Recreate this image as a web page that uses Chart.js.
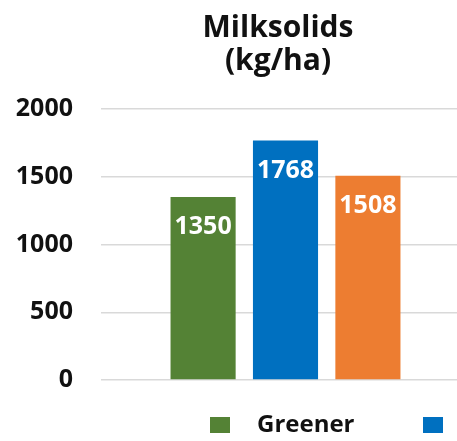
<!DOCTYPE html>
<html>
<head>
<meta charset="utf-8">
<script src="https://cdn.jsdelivr.net/npm/chart.js@4/dist/chart.umd.min.js"></script>
<style>
  html, body { margin: 0; padding: 0; background: #fff; overflow: hidden; width: 457px; height: 441px; }
  #c { display: block; }
</style>
</head>
<body>
<canvas id="c" width="556" height="441" style="width:556px;height:441px"></canvas>
<script>
const categories = [''];
const seriesNames = ['Greener', 'Current', 'Future'];
const seriesValues = [[1350], [1768], [1508]];
const seriesColors = ['#548235', '#0070C0', '#ED7D31'];
const yTicks = [0, 500, 1000, 1500, 2000];
const titleLines = ['Milksolids', '(kg/ha)'];

const FONT = "'Open Sans', 'Liberation Sans', sans-serif";

const dataLabelPlugin = {
  id: 'dataLabels',
  afterDatasetsDraw(chart) {
    const ctx = chart.ctx;
    ctx.save();
    ctx.font = 'bold 25px ' + FONT;
    ctx.fillStyle = '#ffffff';
    ctx.textAlign = 'center';
    ctx.textBaseline = 'middle';
    chart.data.datasets.forEach((ds, i) => {
      const meta = chart.getDatasetMeta(i);
      meta.data.forEach((el, j) => {
        ctx.fillText(String(ds.data[j]), el.x, el.y + 30);
      });
    });
    ctx.restore();
  }
};

const legendPlugin = {
  id: 'customLegend',
  afterDraw(chart) {
    const ctx = chart.ctx;
    ctx.save();
    ctx.font = 'bold 24px ' + FONT;
    ctx.textBaseline = 'middle';
    ctx.textAlign = 'left';
    const y = 425;
    chart.data.datasets.forEach((ds, i) => {
      const x = 210 + i * 213;
      ctx.fillStyle = ds.backgroundColor;
      ctx.fillRect(x, y - 8, 20, 16);
      ctx.fillStyle = '#111';
      ctx.fillText(ds.label, x + 47, y);
    });
    ctx.restore();
  }
};

new Chart(document.getElementById('c'), {
  type: 'bar',
  data: {
    labels: categories,
    datasets: seriesNames.map((name, i) => ({
      label: name,
      data: seriesValues[i],
      backgroundColor: seriesColors[i],
      borderWidth: 0,
      categoryPercentage: 0.67,
      barPercentage: 0.79,
      yAxisID: 'y'
    }))
  },
  options: {
    responsive: false,
    animation: false,
    layout: { padding: { left: 0, right: 0, top: 0, bottom: 61 } },
    plugins: {
      legend: { display: false },
      tooltip: { enabled: false },
      title: {
        display: true,
        text: titleLines,
        color: '#111',
        font: { family: FONT, weight: 'bold', size: 30, lineHeight: 1.1 },
        padding: { top: 12, bottom: 31 }
      }
    },
    scales: {
      x: { display: false },
      y: {
        min: 0, max: 2000,
        afterBuildTicks: (s) => { s.ticks = yTicks.map(v => ({ value: v })); },
        afterFit: (s) => { s.width = 101; },
        ticks: {
          color: '#111', padding: 28,
          font: { family: FONT, weight: 'bold', size: 25 },
          callback: (v) => String(v)
        },
        grid: { color: '#d9d9d9', lineWidth: 1.5, drawTicks: false },
        border: { display: false }
      },
      y2: {
        position: 'right',
        afterFit: (s) => { s.width = 86; },
        ticks: { display: false },
        grid: { display: false },
        border: { display: false }
      }
    }
  },
  plugins: [dataLabelPlugin, legendPlugin]
});
</script>
</body>
</html>
